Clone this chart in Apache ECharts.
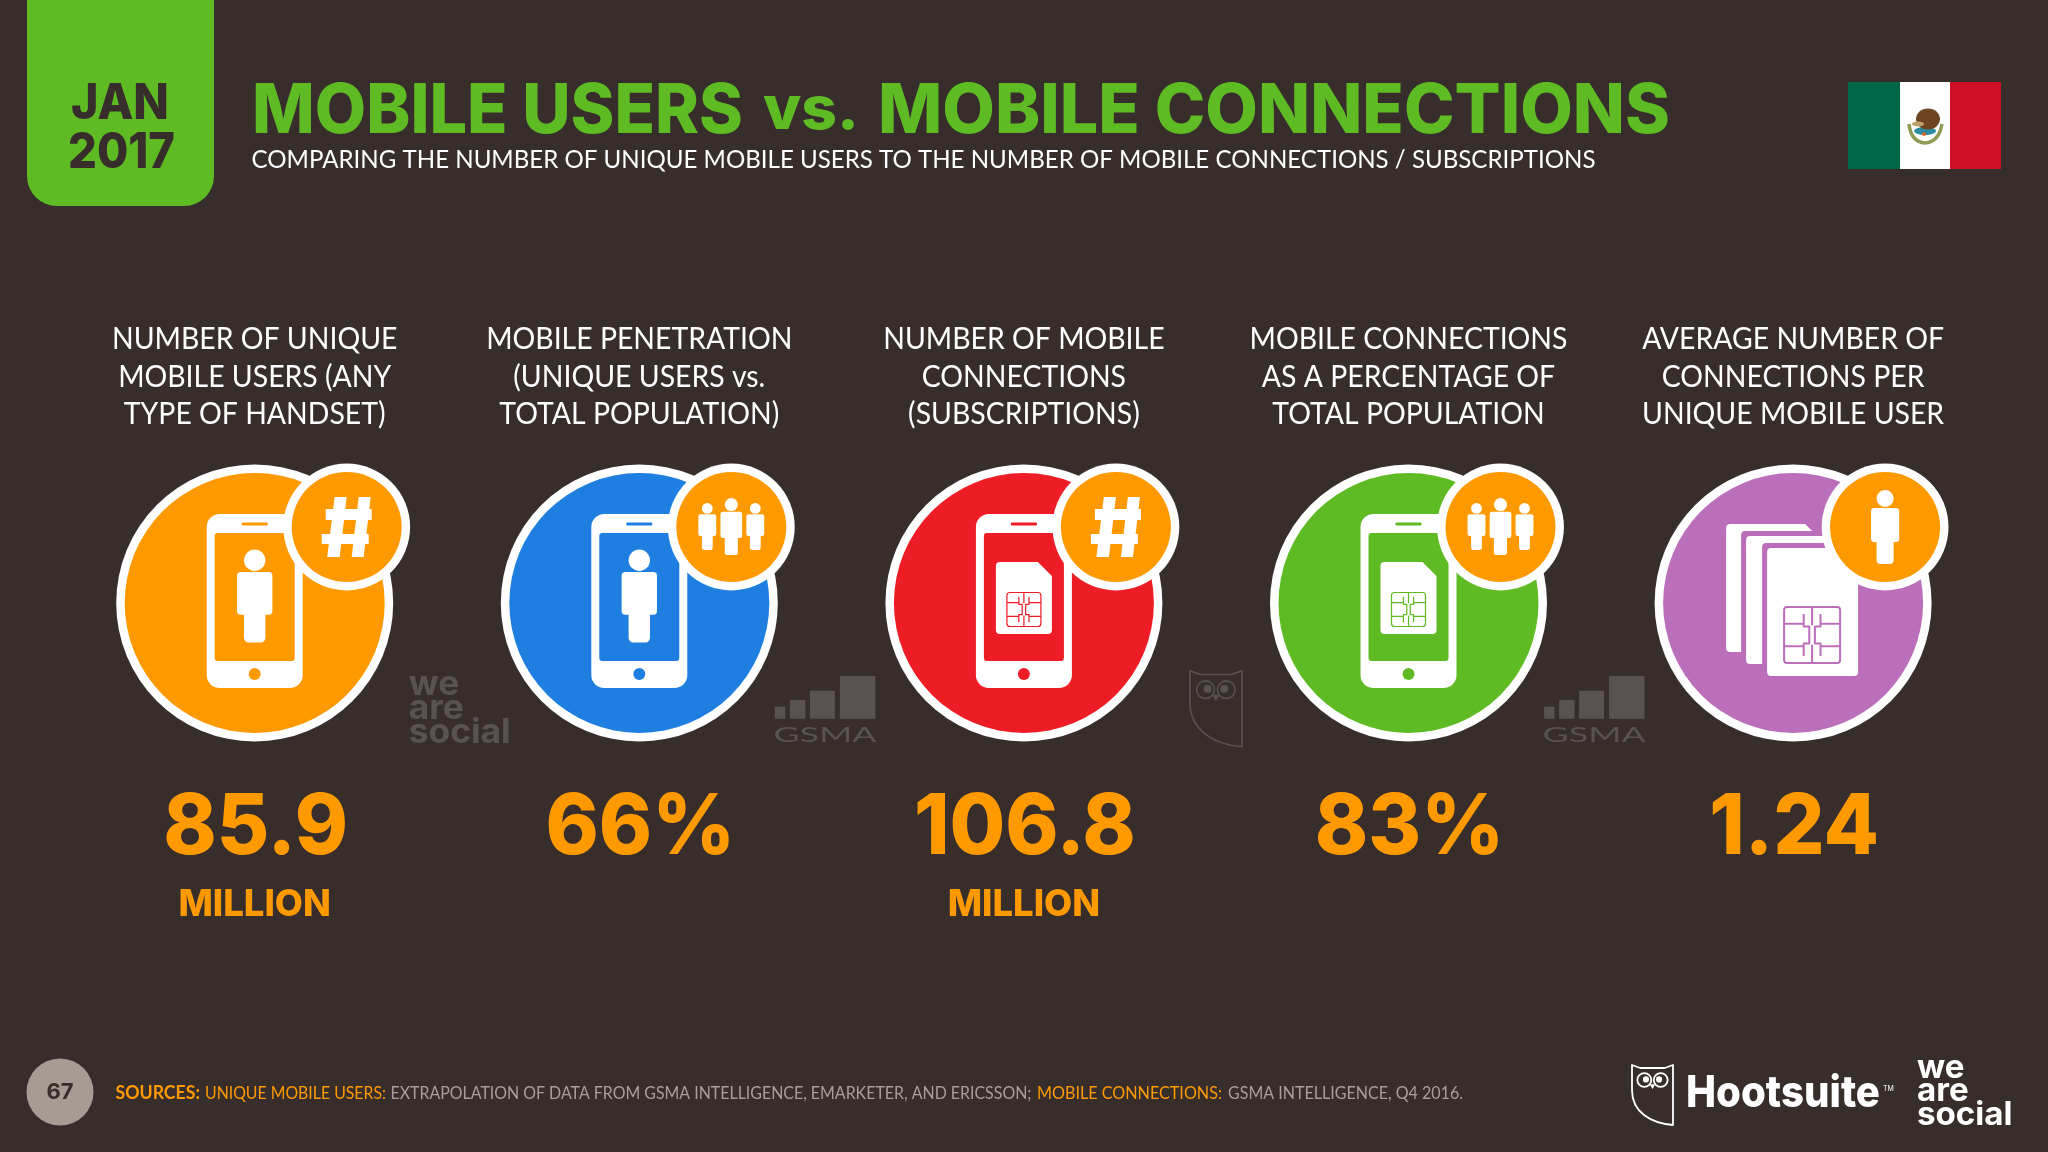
<!DOCTYPE html>
<html><head><meta charset="utf-8">
<script src="https://cdn.jsdelivr.net/npm/echarts@6/dist/echarts.min.js"></script>
<style>html,body{margin:0;padding:0;background:#372e2c}#c{width:2048px;height:1152px}</style>
</head><body><div id="c"></div>
<script>
// ---- chart content ----
const categories = ['unique users','penetration','connections','connections pct','per user'];
const labelLine1 = ['NUMBER OF UNIQUE','MOBILE PENETRATION','NUMBER OF MOBILE','MOBILE CONNECTIONS','AVERAGE NUMBER OF'];
const labelLine2 = ['MOBILE USERS (ANY','(UNIQUE USERS vs.','CONNECTIONS','AS A PERCENTAGE OF','CONNECTIONS PER'];
const labelLine3 = ['TYPE OF HANDSET)','TOTAL POPULATION)','(SUBSCRIPTIONS)','TOTAL POPULATION','UNIQUE MOBILE USER'];
const values = ['85.9','66%','106.8','83%','1.24'];
const units = ['MILLION','','MILLION','',''];
const circleColors = ['#ff9900','#1f7fe0','#ee1c25','#5fbb24','#bb6fbb'];
const centerIcons = ['person','person','sim','sim','stack'];
const badgeIcons = ['hash','people','hash','people','one'];
const watermarks = ['wearesocial','gsma','owl','gsma',''];

const BG='#372e2c', GREEN='#5fbb24', ORANGE='#ff9900', WHITE='#ffffff', WM='#5a5250';
const LATO='Lato, sans-serif', INTER='Inter, sans-serif';

const mctx=document.createElement('canvas').getContext('2d');
function tw(s,f){mctx.font=f;return mctx.measureText(s).width;}
function T(s,x,y,font,fill,o){o=o||{};
  let sx=o.sx||1; if(o.w) sx=o.w/tw(s,font);
  return {type:'text',x:x,y:y,scaleX:sx,silent:true,
    style:{text:s,x:0,y:0,font:font,fill:fill,align:o.align||'left',verticalAlign:'middle'}};}
function R(x,y,w,h,fill,r){return {type:'rect',silent:true,shape:{x:x,y:y,width:w,height:h,r:r||0},style:{fill:fill}};}
function C(cx,cy,r,fill){return {type:'circle',silent:true,shape:{cx:cx,cy:cy,r:r},style:{fill:fill}};}
function P(d,fill,stroke,lw){return {type:'path',silent:true,shape:{pathData:d},style:{fill:fill||'none',stroke:stroke||'none',lineWidth:lw||1,lineJoin:'round'}};}

function person(cx,top,h,col){return [
  C(cx,top+h*.115,h*.115,col),
  R(cx-h*.19,top+h*.242,h*.38,h*.46,col,h*.04),
  R(cx-h*.115,top+h*.6,h*.23,h*.4,col,h*.05)];}
function chip(cx,cy,s,col){const a=s/2,l=Math.max(1,s/28);
  const d=[];
  d.push(`M${cx-a+3} ${cy-a}H${cx+a-3}Q${cx+a} ${cy-a} ${cx+a} ${cy-a+3}V${cy+a-3}Q${cx+a} ${cy+a} ${cx+a-3} ${cy+a}H${cx-a+3}Q${cx-a} ${cy+a} ${cx-a} ${cy+a-3}V${cy-a+3}Q${cx-a} ${cy-a} ${cx-a+3} ${cy-a}Z`);
  [-.4,.4].forEach(v=>{d.push(`M${cx-a} ${cy+v*a}H${cx-.3*a}`);d.push(`M${cx+.3*a} ${cy+v*a}H${cx+a}`);});
  d.push(`M${cx} ${cy-a}V${cy-.35*a}M${cx} ${cy+.35*a}V${cy+a}`);
  d.push(`M${cx-.3*a} ${cy-.75*a}V${cy-.3*a}H${cx-.1*a}V${cy+.3*a}H${cx-.3*a}V${cy+.75*a}`);
  d.push(`M${cx+.3*a} ${cy-.75*a}V${cy-.3*a}H${cx+.1*a}V${cy+.3*a}H${cx+.3*a}V${cy+.75*a}`);
  return [P(d.join(''),null,col,l)];}
function simCard(x,y,w,h,cut,fill){return P(`M${x+4} ${y}H${x+w-cut}L${x+w} ${y+cut}V${y+h-4}Q${x+w} ${y+h} ${x+w-4} ${y+h}H${x+4}Q${x} ${y+h} ${x} ${y+h-4}V${y+4}Q${x} ${y} ${x+4} ${y}Z`,fill);}
function owl(x,y,w,h,col,lw){const X=v=>x+v*w,Y=v=>y+v*h;
  return [
   P(`M${X(0)} ${Y(0)}L${X(.2)} ${Y(.05)}H${X(.8)}L${X(1)} ${Y(0)}V${Y(1)}C${X(.45)} ${Y(.97)} ${X(0)} ${Y(.78)} ${X(0)} ${Y(.42)}Z`,null,col,lw),
   {type:'circle',silent:true,shape:{cx:X(.3),cy:Y(.25),r:w*.17},style:{fill:'none',stroke:col,lineWidth:lw}},
   {type:'circle',silent:true,shape:{cx:X(.7),cy:Y(.25),r:w*.17},style:{fill:'none',stroke:col,lineWidth:lw}},
   C(X(.34),Y(.24),w*.075,col),C(X(.66),Y(.24),w*.075,col),
   P(`M${X(.43)} ${Y(.32)}H${X(.57)}L${X(.5)} ${Y(.4)}Z`,col)];}
function hash(col){return [
  P('M-21 -18H25L25 -7H-21Z',col),
  P('M-25 7H22L22 17H-25Z',col),
  P('M-12 -30H0L-7 30H-19.5Z',col),
  P('M12 -30H24L17 30H5Z',col)];}
function gsma(x,col){return [
  R(x,103.7,10.4,12,col),R(x+15,97,15.4,18.7,col),R(x+35,87.7,25,28,col),R(x+65,73,35.4,42.7,col),
  T('GSMA',x+50,132.5,'400 21px '+LATO,col,{align:'center',w:103})];}
function weAreSocial(x,y,w,col,size,step){const f='700 '+size+'px '+INTER,st=size*step;
  const sx=w/tw('social',f);
  return [T('we',x,y,f,col,{sx:sx}),T('are',x,y+st,f,col,{sx:sx}),T('social',x,y+2*st,f,col,{sx:sx})];}

const LABEL_FONT='400 30px '+LATO, VALUE_FONT='800 84px '+INTER, UNIT_FONT='800 37px '+INTER;
const LABEL_SX=.947, VALUE_SX=.96, UNIT_SX=.985;

function renderColumn(params,api){
  const i=params.dataIndex, pt=api.coord([i,0]);
  const col=circleColors[i], ch=[];
  ch.push(T(labelLine1[i],0,-264,LABEL_FONT,WHITE,{align:'center',sx:LABEL_SX}));
  ch.push(T(labelLine2[i],0,-226,LABEL_FONT,WHITE,{align:'center',sx:LABEL_SX}));
  ch.push(T(labelLine3[i],0,-189,LABEL_FONT,WHITE,{align:'center',sx:LABEL_SX}));
  ch.push(C(0,0,138.5,WHITE),C(0,0,130,col));
  if(centerIcons[i]==='stack'){
    ch.push(simCard(-67,-79,91,128,12,WHITE));
    ch.push(simCard(-52,-72,91,128,12,col));
    ch.push(simCard(-47,-67,91,128,12,WHITE));
    ch.push(simCard(-31,-60,91,128,12,col));
    ch.push(simCard(-26,-55,91,128,12,WHITE));
    ch.push(...chip(19,32,56,col));
  } else {
    ch.push(R(-48,-89,96,174,WHITE,13),R(-40,-70,80,128,col,3),R(-13,-80.5,26,3,col,1),C(0,71,6,col));
    if(centerIcons[i]==='person') ch.push(...person(0,-53.5,93,WHITE));
    else { ch.push(simCard(-28,-41,56,72,14,WHITE)); ch.push(...chip(0,6.5,34,col)); }
  }
  const badge={type:'group',x:92,y:-76,children:[C(0,0,63.4,WHITE),C(0,0,55,ORANGE)]};
  if(badgeIcons[i]==='hash') badge.children.push(...hash(WHITE));
  if(badgeIcons[i]==='people') badge.children.push(...person(-24,-24,47,WHITE),...person(24,-24,47,WHITE),...person(0,-29,57,WHITE));
  if(badgeIcons[i]==='one') badge.children.push(...person(0,-37,74,WHITE));
  ch.push(badge);
  if(watermarks[i]==='wearesocial') ch.push(...weAreSocial(154,82,102,WM,34,.71));
  if(watermarks[i]==='gsma') ch.push(...gsma(135.6,WM));
  if(watermarks[i]==='owl') ch.push(...owl(166,67.7,52,76,WM,1.6));
  ch.push(T(values[i],1,226,VALUE_FONT,ORANGE,{align:'center',sx:VALUE_SX}));
  if(units[i]) ch.push(T(units[i],0,302,UNIT_FONT,ORANGE,{align:'center',sx:UNIT_SX}));
  return {type:'group',x:pt[0],y:pt[1],children:ch};
}

function headerFooter(){
  const title='800 69px '+INTER;
  return [
  {type:'rect',silent:true,shape:{x:27,y:-30,width:187,height:236,r:30},style:{fill:GREEN}},
  T('JAN',120,104,'800 50px '+INTER,BG,{align:'center',w:98}),
  T('2017',121.5,153,'800 50px '+INTER,BG,{align:'center',w:107}),
  T('MOBILE USERS',252,112,title,GREEN,{w:491}),
  T('vs.',763,111,'800 60px '+INTER,GREEN,{w:96}),
  T('MOBILE CONNECTIONS',878,112,title,GREEN,{w:792}),
  T('COMPARING THE NUMBER OF UNIQUE MOBILE USERS TO THE NUMBER OF MOBILE CONNECTIONS / SUBSCRIPTIONS',251.5,160,'400 25px '+LATO,WHITE,{w:1344}),
  R(1848,82,52,87,'#006847'),R(1900,82,50,87,'#ffffff'),R(1950,82,51,87,'#ce1126'),
  P('M1909 124Q1911 142 1925 143Q1939 142 1942 124',null,'#8f9a55',3.5),
  {type:'ellipse',silent:true,shape:{cx:1925,cy:131,rx:11,ry:4},style:{fill:'#2a8ca0'}},
  {type:'ellipse',silent:true,shape:{cx:1928,cy:119,rx:12,ry:10.5},style:{fill:'#6f4420'}},
  {type:'ellipse',silent:true,shape:{cx:1918,cy:124,rx:6,ry:2.5},style:{fill:'#bda36a'}},
  C(1924,134,2,'#d9682a'),
  C(60,1092,33.5,'#a69c94'),
  T('67',60,1092,'700 22px '+INTER,BG,{align:'center'}),
  T('SOURCES:',115.5,1093,'700 18px '+LATO,ORANGE,{w:84.5}),
  T('UNIQUE MOBILE USERS:',205,1093,'400 18px '+LATO,ORANGE,{w:181}),
  T('EXTRAPOLATION OF DATA FROM GSMA INTELLIGENCE, EMARKETER, AND ERICSSON;',390.5,1093,'400 18px '+LATO,'#a89f97',{w:641}),
  T('MOBILE CONNECTIONS:',1037,1093,'400 18px '+LATO,ORANGE,{w:185}),
  T('GSMA INTELLIGENCE, Q4 2016.',1228,1093,'400 18px '+LATO,'#a89f97',{w:235}),
  ...owl(1632,1065,41,60,WHITE,1.8),
  T('Hootsuite',1686,1094,'800 44px '+INTER,WHITE,{w:194}),
  T('TM',1883,1089,'400 7px '+INTER,WHITE,{}),
  ...weAreSocial(1917,1068,95.5,WHITE,32,.74)
  ];
}

const chart=echarts.init(document.getElementById('c'),null,{width:2048,height:1152});
chart.setOption({
  animation:false,backgroundColor:BG,
  grid:{left:62.4,width:1923,top:464,height:278},
  xAxis:{type:'category',data:categories,show:false},
  yAxis:{type:'category',data:['icons'],show:false},
  tooltip:{show:false},
  series:[
   {type:'custom',coordinateSystem:'none',clip:false,silent:true,data:[[0]],
    renderItem:()=>({type:'group',children:headerFooter()})},
   {type:'custom',coordinateSystem:'cartesian2d',clip:false,silent:true,
    encode:{x:0,y:1},data:categories.map((c,i)=>[i,0]),renderItem:renderColumn}]
});
</script></body></html>
